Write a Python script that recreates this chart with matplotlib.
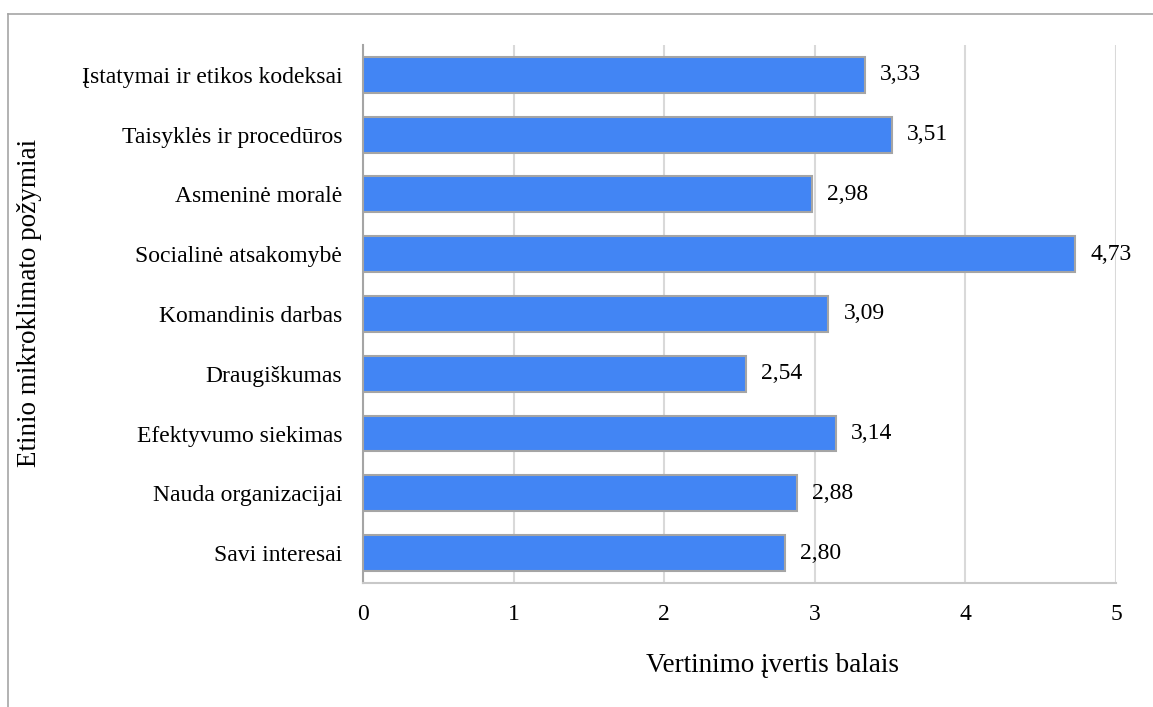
import matplotlib.pyplot as plt
from matplotlib.lines import Line2D

categories = [
    "Įstatymai ir etikos kodeksai",
    "Taisyklės ir procedūros",
    "Asmeninė moralė",
    "Socialinė atsakomybė",
    "Komandinis darbas",
    "Draugiškumas",
    "Efektyvumo siekimas",
    "Nauda organizacijai",
    "Savi interesai",
]
values = [3.33, 3.51, 2.98, 4.73, 3.09, 2.54, 3.14, 2.88, 2.80]
xticks = [0, 1, 2, 3, 4, 5]

plt.rcParams["font.family"] = ["Liberation Serif", "DejaVu Serif"]

fig = plt.figure(figsize=(11.53, 7.07), dpi=100)
ax = fig.add_axes([0.3148, 0.1754, 0.968 - 0.3148, 0.9364 - 0.1754])

y = list(range(len(categories)))[::-1]
ax.barh(y, values, height=0.6, color="#4285F4", edgecolor="#A5A5A5",
        linewidth=1.5, zorder=3)

for yi, v in zip(y, values):
    ax.text(v + 0.1, yi, f"{v:.2f}".replace(".", ","), va="center",
            ha="left", fontsize=17)

ax.set_xlim(0, 5)
ax.set_ylim(-0.5, len(categories) - 0.5)
ax.set_xticks(xticks)
ax.set_xticklabels([str(t) for t in xticks])
ax.set_yticks(y)
ax.set_yticklabels(categories)
ax.tick_params(axis="both", length=0, labelsize=17)
ax.tick_params(axis="x", pad=15)
ax.tick_params(axis="y", pad=15)
ax.grid(axis="x", color="#D9D9D9", linewidth=1.5, zorder=0)

for s in ["top", "right"]:
    ax.spines[s].set_visible(False)
ax.spines["left"].set_color("#A5A5A5")
ax.spines["left"].set_linewidth(1.5)
ax.spines["bottom"].set_color("#C8C8C8")
ax.spines["bottom"].set_linewidth(1.5)

fig.text(773 / 1153, 1 - 666 / 707, "Vertinimo įvertis balais",
         fontsize=19.5, ha="center", va="center")
fig.text(30 / 1153, 1 - 303 / 707, "Etinio mikroklimato požymiai", rotation=90,
         fontsize=19.5, ha="center", va="center")

# chart frame (left and top edges)
fig.add_artist(Line2D([8 / 1153, 8 / 1153], [0, 1 - 14 / 707],
                      transform=fig.transFigure, color="#A5A5A5", linewidth=1.2))
fig.add_artist(Line2D([8 / 1153, 1], [1 - 14 / 707, 1 - 14 / 707],
                      transform=fig.transFigure, color="#A5A5A5", linewidth=1.2))

fig.savefig("out.png", dpi=100)
